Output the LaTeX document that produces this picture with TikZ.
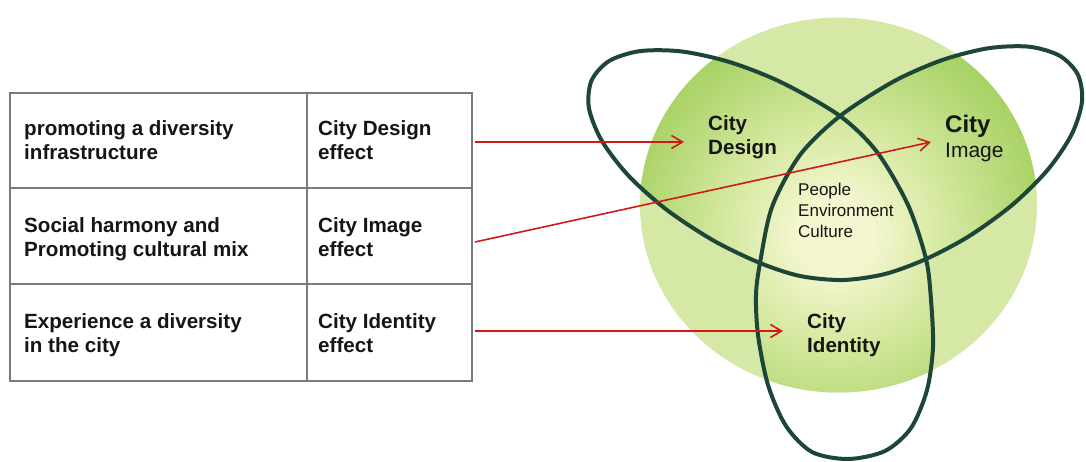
\documentclass[tikz,border=0pt]{standalone}
\usepackage{fontspec}
\setmainfont{Liberation Sans}
\usetikzlibrary{arrows.meta}
\definecolor{ringc}{HTML}{D6E8A6}
\definecolor{glowc}{HTML}{F3F6CE}
\definecolor{lightg}{HTML}{D4E89E}
\definecolor{midg}{HTML}{AAD368}
\definecolor{darkg}{HTML}{96C74E}
\definecolor{knotc}{HTML}{1E4638}
\definecolor{arrowred}{HTML}{D01A1A}
\definecolor{gridc}{HTML}{7A7A7A}
\definecolor{txt}{HTML}{151515}
\pgfdeclareradialshading{glow}{\pgfpoint{0bp}{0bp}}{color(0bp)=(glowc); color(5bp)=(glowc); color(14bp)=(lightg); color(26bp)=(midg); color(40bp)=(darkg); color(50bp)=(darkg)}
\tikzset{
  celltext/.style={anchor=base west, align=left, inner sep=0pt, text=txt,
    font=\fontsize{20.6}{24}\selectfont\bfseries},
  vennlabel/.style={anchor=base west, align=left, inner sep=0pt, text=txt,
    font=\fontsize{20.6}{24}\selectfont\bfseries},
  coretext/.style={anchor=base west, align=left, inner sep=0pt, text=txt,
    font=\fontsize{17}{20.8}\selectfont},
  gridline/.style={draw=gridc, line width=1.2pt},
  knotline/.style={draw=knotc, line width=4pt},
  redarrow/.style={draw=arrowred, line width=1.6pt,
    -{Straight Barb[length=11pt,width=13pt,line width=1.6pt]}}
}
\begin{document}
\begin{tikzpicture}[x=1pt,y=-1pt]
\useasboundingbox (0,0) rectangle (1086,462);
% ---- table ----
\draw[gridline] (10,93) rectangle (472,381);
\draw[gridline] (307,93) -- (307,381);
\draw[gridline] (10,188) -- (472,188);
\draw[gridline] (10,284) -- (472,284);
\node[celltext] (l1) at (24,160) {promoting a diversity\\infrastructure};
\node[celltext] (l2) at (24,256) {Social harmony and\\Promoting cultural mix};
\node[celltext] (l3) at (24,352) {Experience a diversity\\in the city};
\node[celltext] (r1) at (318,160) {City Design\\effect};
\node[celltext] (r2) at (318,256) {City Image\\effect};
\node[celltext] (r3) at (318,352) {City Identity\\effect};
% ---- venn ----
\fill[ringc] (838.5,205) ellipse [x radius=198.5pt, y radius=187.5pt];
\begin{scope}
\clip (838.5,205) ellipse [x radius=198.5pt, y radius=187.5pt];
\clip plot[smooth cycle] coordinates {
 (760,263) (714.1,240.9) (667.2,210.2) (628.6,175.8) (601.7,140.6)
 (588.9,107.9) (591.5,80.6) (609.1,61.0) (640.1,51.1) (681.9,51.5)
 (730.7,62.4) (782.1,82.7) (840,116)
 (877,152) (908,205) (926,259)
 (931,300) (933,347) (927,390) (911,428) (885,451) (848,459) (812,452)
 (786,426) (768,385) (758,335) (756,295) (760,263)
 (772,207) (800,155) (840,116)
 (893.7,81.4) (942.1,60.1) (988.6,48.2) (1029.0,46.7) (1059.7,55.8)
 (1077.9,74.7) (1082.0,101.6) (1071.7,134.3) (1047.8,169.7) (1012.5,204.7)
 (969.0,236.2) (926,259)
 (885,274) (843,280) (800,276)};
\shade[shading=glow] (635,35) rectangle (1035,435);
\end{scope}
\draw[knotline] plot[smooth cycle] coordinates {
 (760,263) (714.1,240.9) (667.2,210.2) (628.6,175.8) (601.7,140.6)
 (588.9,107.9) (591.5,80.6) (609.1,61.0) (640.1,51.1) (681.9,51.5)
 (730.7,62.4) (782.1,82.7) (840,116)
 (877,152) (908,205) (926,259)
 (931,300) (933,347) (927,390) (911,428) (885,451) (848,459) (812,452)
 (786,426) (768,385) (758,335) (756,295) (760,263)
 (772,207) (800,155) (840,116)
 (893.7,81.4) (942.1,60.1) (988.6,48.2) (1029.0,46.7) (1059.7,55.8)
 (1077.9,74.7) (1082.0,101.6) (1071.7,134.3) (1047.8,169.7) (1012.5,204.7)
 (969.0,236.2) (926,259)
 (885,274) (843,280) (800,276)};
\node[vennlabel] (design) at (708,155) {City\\Design};
\node[vennlabel, font=\fontsize{24}{25}\selectfont\bfseries] (image) at (945,133) {City};
\node[vennlabel, font=\fontsize{21}{24}\selectfont] (image2) at (945,158) {Image};
\node[vennlabel] (identity) at (807,352) {City\\Identity};
\node[coretext] (core) at (798,237) {People\\Environment\\Culture};
% ---- arrows ----
\coordinate (s1) at (475,142);
\coordinate (e1) at (684,142);
\coordinate (s2) at (475,242);
\coordinate (e2) at (931,142);
\coordinate (s3) at (475,331);
\coordinate (e3) at (783,331);
\draw[redarrow] (s1) -- (e1);
\draw[redarrow] (s2) -- (e2);
\draw[redarrow] (s3) -- (e3);
\end{tikzpicture}
\end{document}
